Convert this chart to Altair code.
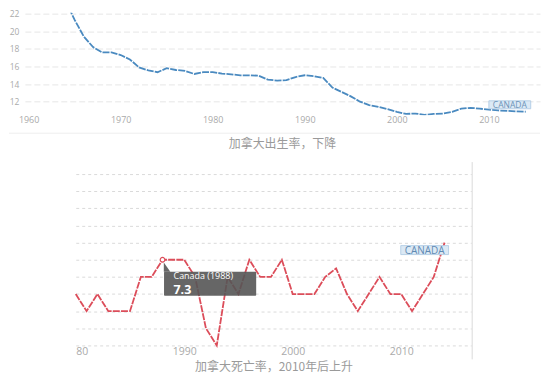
import altair as alt
import pandas as pd

# ---- data ----
birth_years = list(range(1964, 2015))
birth_rate = [23.5, 21.3, 19.4, 18.2, 17.6, 17.6, 17.3, 16.8, 15.9, 15.55,
              15.35, 15.8, 15.6, 15.5, 15.15, 15.35, 15.35, 15.2, 15.1, 15.0,
              15.0, 14.95, 14.5, 14.4, 14.45, 14.8, 15.0, 14.9, 14.7, 13.6,
              13.1, 12.6, 12.0, 11.6, 11.4, 11.15, 10.85, 10.6, 10.65, 10.5,
              10.6, 10.65, 10.85, 11.2, 11.3, 11.2, 11.1, 11.0, 10.95, 10.9,
              10.85]
death_years = list(range(1980, 2015))
death_rate = [7.1, 7.0, 7.1, 7.0, 7.0, 7.0, 7.2, 7.2, 7.3, 7.3,
              7.3, 7.2, 6.9, 6.8, 7.2, 7.1, 7.3, 7.2, 7.2, 7.3,
              7.1, 7.1, 7.1, 7.2, 7.25, 7.1, 7.0, 7.1, 7.2, 7.1,
              7.1, 7.0, 7.1, 7.2, 7.4]
top_x_ticks = [1960, 1970, 1980, 1990, 2000, 2010]
top_y_ticks = [12, 14, 16, 18, 20, 22]
bot_x_ticks = [1980, 1990, 2000, 2010]
bot_y_ticks = [6.8, 6.9, 7.0, 7.1, 7.2, 7.3, 7.4, 7.5, 7.6, 7.7, 7.8]
country = "Canada"
series_label = "CANADA"
tip_year = 1988
title_top = "加拿大出生率，下降"
title_bottom = "加拿大死亡率，2010年后上升"

birth = pd.DataFrame({"year": birth_years, "rate": birth_rate})
death = pd.DataFrame({"year": death_years, "rate": death_rate})
birth_last = birth.tail(1).assign(label=series_label)
death_last = death.tail(1).assign(label=series_label)
tip = death[death["year"] == tip_year].assign(
    head=f"{country} ({tip_year})",
    val=lambda d: d["rate"].map(lambda v: f"{v:.1f}"))

BLUE = "#4a8ac0"
RED = "#dc4d5a"
LABEL_GREY = "#aaaaaa"
TIP_GREY = "#555555"
CJK = "Noto Sans CJK SC"

# ---- top chart: birth rate ----
tx = alt.X("year:Q", scale=alt.Scale(domain=[1959.6, 2015.55], nice=False, zero=False),
           axis=alt.Axis(values=top_x_ticks, format="d", title=None, grid=False,
                         domain=False, ticks=False, labelPadding=0, labelOverlap=False,
                         labelColor=LABEL_GREY, labelFontSize=9, labelFont="Open Sans"))
ty = alt.Y("rate:Q", scale=alt.Scale(domain=[10.45, 22.12], nice=False, zero=False),
           axis=alt.Axis(values=top_y_ticks, title=None, domain=False, ticks=False,
                         labelPadding=6, labelOverlap=False, labelColor=LABEL_GREY,
                         labelFontSize=8.5, labelFont="Open Sans",
                         gridColor="#e6e6e6", gridDash=[6, 3]))

top_line = alt.Chart(birth).mark_line(color=BLUE, strokeWidth=1.8, clip=True,
                                      strokeDash=[7, 1.2]).encode(x=tx, y=ty)
top_sep = alt.Chart(birth.head(1)).mark_rule(color="#eeeeee", strokeWidth=1).encode(
    x=alt.value(-16), x2=alt.value(517), y=alt.value(121))
top_box = alt.Chart(birth_last).mark_rect(
    fill="#dbe9f5", stroke="#a9c8e2", strokeWidth=0.8,
    xOffset=-37, x2Offset=5, yOffset=-11, y2Offset=-3).encode(
    x=tx, x2="year:Q", y=ty, y2="rate:Q")
top_txt = alt.Chart(birth_last).mark_text(
    color="#6b93b8", fontSize=8.5, font="Open Sans", dx=-16, dy=-7).encode(
    x=tx, y=ty, text="label:N")

top = alt.layer(top_line, top_sep, top_box, top_txt).properties(
    width=517, height=103,
    title=alt.TitleParams(title_top, orient="bottom", anchor="middle", fontSize=12,
                          font=CJK, fontWeight="normal", color="#9a9a9a", offset=5))

# ---- bottom chart: death rate ----
bx = alt.X("year:Q", scale=alt.Scale(domain=[1980, 2016.55], nice=False, zero=False),
           axis=alt.Axis(values=bot_x_ticks, format="d", title=None, grid=False,
                         domain=False, ticks=False, labelPadding=1, labelFlush=True,
                         labelOverlap=False,
                         labelExpr="datum.value == 1980 ? '80' : datum.label",
                         labelColor=LABEL_GREY, labelFontSize=10.5, labelFont="Open Sans"))
by = alt.Y("rate:Q", scale=alt.Scale(domain=[6.8, 7.87], nice=False, zero=False),
           axis=alt.Axis(values=bot_y_ticks, title=None, labels=False, domain=False,
                         ticks=False, gridColor="#dadada", gridDash=[3, 3]))

bot_line = alt.Chart(death).mark_line(color=RED, strokeWidth=1.8,
                                      strokeDash=[7, 1.2]).encode(x=bx, y=by)
bot_edge = alt.Chart(death.head(1)).mark_rule(color="#e6e6e6", strokeWidth=1.5).encode(
    x=alt.value(398), y=alt.value(0), y2=alt.value(198))
tip_rect = alt.Chart(tip).mark_rect(
    fill=TIP_GREY, opacity=0.9, xOffset=1.5, x2Offset=94, yOffset=12, y2Offset=36,
    cornerRadius=1).encode(x=bx, x2="year:Q", y=by, y2="rate:Q")
tip_notch = alt.Chart(tip).mark_point(
    shape="M0.1,0.22L0.1,0.92L0.6,0.92Z", filled=True, fill=TIP_GREY, opacity=0.9,
    strokeWidth=0, size=676).encode(x=bx, y=by)
tip_pt = alt.Chart(tip).mark_point(shape="circle", filled=True, fill="white",
                                   stroke=RED, strokeWidth=1.2, size=22, opacity=1).encode(
    x=bx, y=by)
tip_head = alt.Chart(tip).mark_text(align="left", baseline="middle", dx=11, dy=16,
                                    color="white", fontSize=9, font="Open Sans").encode(
    x=bx, y=by, text="head:N")
tip_val = alt.Chart(tip).mark_text(align="left", baseline="middle", dx=11, dy=30,
                                   color="white", fontSize=12.5, fontWeight="bold",
                                   font="Open Sans").encode(
    x=bx, y=by, text="val:N")
bot_box = alt.Chart(death_last).mark_rect(
    fill="#dbe9f5", stroke="#a9c8e2", strokeWidth=0.8,
    xOffset=-44, x2Offset=4, yOffset=3, y2Offset=12).encode(
    x=bx, x2="year:Q", y=by, y2="rate:Q")
bot_txt = alt.Chart(death_last).mark_text(
    color="#5f8ab3", fontSize=10, font="Open Sans", dx=-20, dy=8).encode(
    x=bx, y=by, text="label:N")

bottom = alt.layer(bot_line, bot_edge, tip_rect, tip_notch, tip_pt, tip_head, tip_val,
                   bot_box, bot_txt).properties(
    width=398, height=184,
    title=alt.TitleParams(title_bottom, orient="bottom", anchor="middle", fontSize=12,
                          font=CJK, fontWeight="normal", color="#9a9a9a", offset=2))

# empty spacer that pushes the lower panel to the right
spacer = alt.Chart(death.head(1)).mark_point(opacity=0, size=1).encode(
    x=alt.value(20), y=alt.value(5)).properties(width=45, height=10)

chart = alt.vconcat(top, alt.hconcat(spacer, bottom, spacing=0), spacing=10).properties(
    padding=0).configure(background="white",
                         view=alt.ViewConfig(stroke="transparent"))

chart.save("out.html", embed_options={"renderer": "svg", "actions": False})
